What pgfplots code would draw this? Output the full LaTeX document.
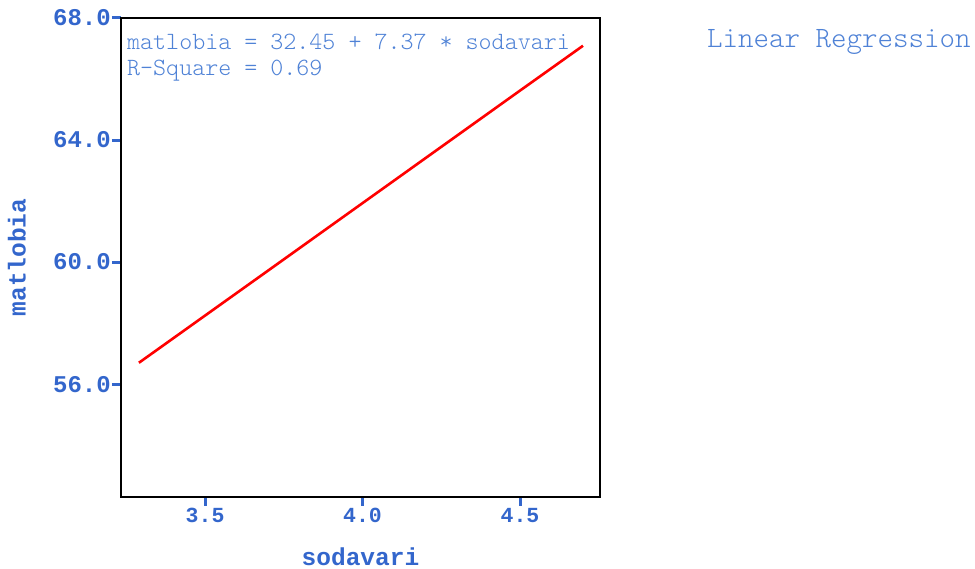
\documentclass[border=0pt]{standalone}
\usepackage{pgfplots}
\pgfplotsset{compat=1.18}
\usepackage{fontspec}
\setmonofont{Liberation Mono}
\newfontfamily\notefont{Latin Modern Mono Light}
\definecolor{tickblue}{HTML}{3366CC}
\definecolor{noteblue}{HTML}{4F82D6}
\begin{document}
\begin{tikzpicture}
\begin{axis}[
	at={(0pt,0pt)}, anchor=south west,
	scale only axis, width=479pt, height=479pt,
	xmin=3.233, xmax=4.754,
	ymin=52.3, ymax=68,
	xtick={3.5,4.0,4.5}, ytick={56,60,64,68},
	xtick pos=bottom, ytick pos=left,
	tick align=outside, major tick length=9pt,
	every tick/.style={tickblue, line width=3pt},
	axis line style={black, line width=1.5pt},
	/pgf/number format/assume math mode=true,
	/pgf/number format/.cd, fixed, fixed zerofill, precision=1, /pgfplots/.cd,
	ticklabel style={text=tickblue, inner sep=2pt},
	xticklabel style={font=\fontsize{21.5}{24}\selectfont\ttfamily\bfseries},
	yticklabel style={font=\fontsize{24}{27}\selectfont\ttfamily\bfseries, xshift=1pt},
	xlabel={sodavari}, ylabel={matlobia},
	label style={font=\fontsize{24.5}{28}\selectfont\ttfamily\bfseries, text=tickblue},
	xlabel style={at={(axis description cs:0.5,-0.142)}, anchor=base},
	ylabel style={at={(axis description cs:-0.199,0.5)}, anchor=base, rotate=0},
	clip=false,
]
\addplot[red, line width=2.6pt, no marks] coordinates {
	(3.29,56.70)
	(3.70,59.72)
	(4.10,62.67)
	(4.50,65.62)
	(4.70,67.09)
};
\node[anchor=base west, inner sep=0pt, text=noteblue, font=\fontsize{24.8}{28}\selectfont\notefont] at (rel axis cs:0.0125,0.935) {matlobia = 32.45 + 7.37 * sodavari};
\node[anchor=base west, inner sep=0pt, text=noteblue, font=\fontsize{24.8}{28}\selectfont\notefont] at (rel axis cs:0.0125,0.879) {R-Square = 0.69};
\node[anchor=base west, inner sep=0pt, text=noteblue, font=\fontsize{29.5}{32}\selectfont\notefont] at (rel axis cs:1.2234,0.9374) {Linear Regression};
\end{axis}
\path[use as bounding box] (-121pt,-70pt) rectangle (854pt,497pt);
\end{tikzpicture}
\end{document}
